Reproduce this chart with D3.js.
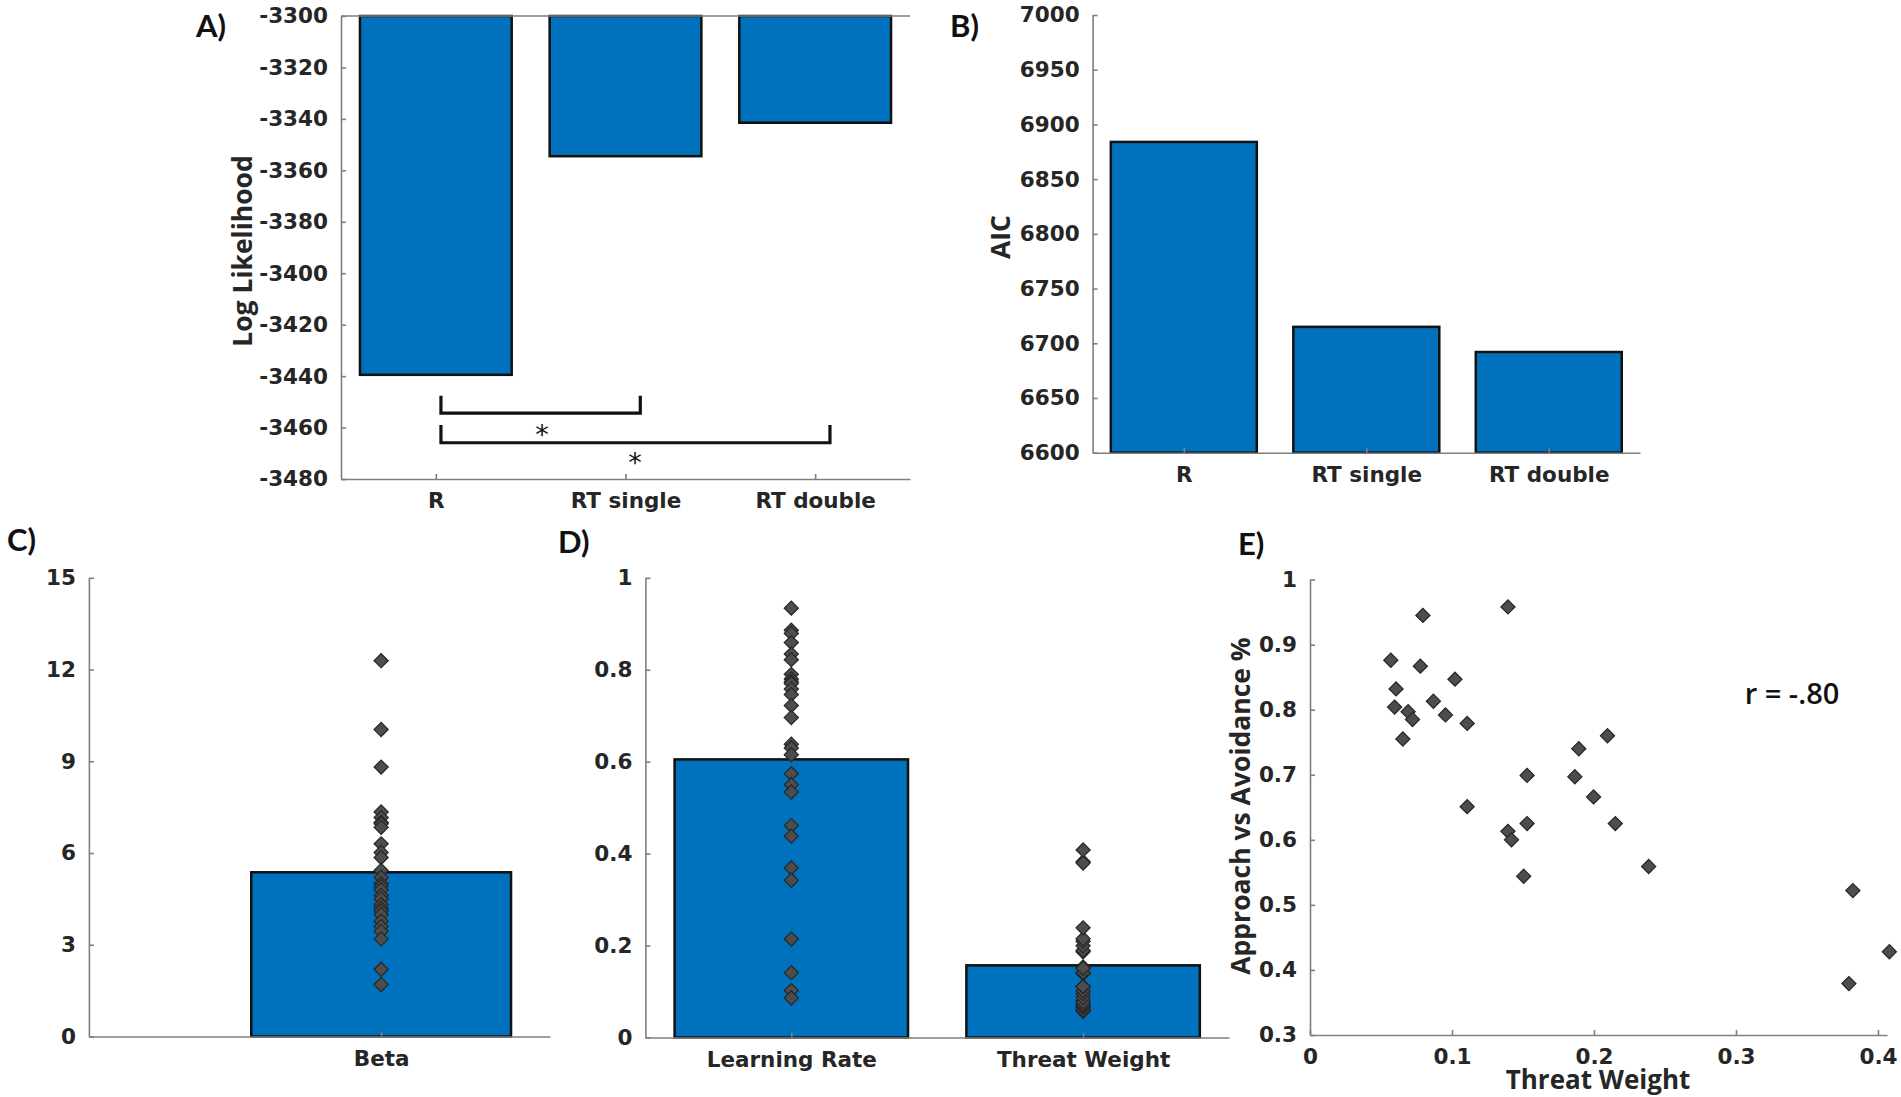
<!DOCTYPE html>
<html><head><meta charset="utf-8">
<script src="https://cdn.jsdelivr.net/npm/d3@7"></script>
<style>
body{margin:0;background:#fff;}
svg{display:block;}
.axis text{font-family:"DejaVu Sans",sans-serif;font-weight:bold;font-size:21.5px;fill:#262626;}
.axis path,.axis line{stroke:#7f7f7f;stroke-width:1.6;}
.lab{font-family:"Open Sans",sans-serif;font-weight:700;font-size:26.5px;fill:#262626;}
.panel{font-family:"Lato",sans-serif;font-weight:700;font-size:31px;fill:#111;}
</style></head><body>
<svg id="chart" width="1901" height="1097"></svg>
<script>
// ---------------- data ----------------
const modelNames = ["R", "RT single", "RT double"];
const logLikelihood = [-3439.5, -3354.5, -3341.5];
const aicValues = [6884, 6715, 6692];
const llTicks = [-3300, -3320, -3340, -3360, -3380, -3400, -3420, -3440, -3460, -3480];
const aicTicks = [6600, 6650, 6700, 6750, 6800, 6850, 6900, 6950, 7000];

const betaNames = ["Beta"];
const betaMean = [5.37];
const betaPoints = [12.29, 10.04, 8.81, 7.34, 7.16, 7.0, 6.96, 6.84, 6.30, 6.02, 5.85, 5.43, 5.2, 5.0,
  4.91, 4.8, 4.61, 4.5, 4.31, 4.19, 4.1, 3.98, 3.77, 3.6, 3.44, 3.19, 2.20, 1.70];
const betaTicks = [0, 3, 6, 9, 12, 15];

const paramNames = ["Learning Rate", "Threat Weight"];
const paramMeans = [0.605, 0.157];
const learningRatePoints = [0.934, 0.886, 0.879, 0.859, 0.834, 0.822, 0.790, 0.780, 0.774, 0.770, 0.758,
  0.746, 0.722, 0.696, 0.638, 0.630, 0.615, 0.574, 0.550, 0.534, 0.461, 0.438, 0.369, 0.342, 0.214,
  0.141, 0.102, 0.086];
const threatWeightPoints = [0.0569, 0.0606, 0.0596, 0.0654, 0.0691, 0.0722, 0.0795, 0.0777, 0.0869, 0.0954,
  0.1021, 0.1107, 0.1107, 0.1394, 0.1394, 0.1419, 0.1529, 0.1529, 0.1505, 0.1865, 0.1893, 0.1997,
  0.2095, 0.2150, 0.2385, 0.3823, 0.3795, 0.4080];
const approachAvoid = [0.876, 0.832, 0.804, 0.755, 0.797, 0.785, 0.945, 0.867, 0.813, 0.792, 0.847,
  0.779, 0.651, 0.958, 0.613, 0.600, 0.699, 0.625, 0.544, 0.697, 0.740, 0.666, 0.760, 0.625,
  0.559, 0.522, 0.379, 0.428];
const paramTicks = [0, 0.2, 0.4, 0.6, 0.8, 1];
const eXTicks = [0, 0.1, 0.2, 0.3, 0.4];
const eYTicks = [0.3, 0.4, 0.5, 0.6, 0.7, 0.8, 0.9, 1];
const corrText = "r = -.80";

// significance annotations (category index / data units)
const sigPairs = [[1, 2], [1, 3]];
const sigLevels = [[-3447.6, -3454.4], [-3459, -3465.9]];
const starPos = [[1.56, -3459], [2.05, -3469.9]];

// ---------------- drawing ----------------
const svg = d3.select("#chart");
const BLUE = "#0072bd";
const barW = 0.8;
const diamond = d3.symbol(d3.symbolSquare, 100);

function yAxis(g, scale, ticks, fmt) {
  g.attr("class", "axis").call(d3.axisLeft(scale).tickValues(ticks).tickSize(-5).tickSizeOuter(0)
    .tickPadding(13).tickFormat(fmt || (d => String(d))));
}
function xAxis(g, scale, ticks, fmt) {
  g.attr("class", "axis").call(d3.axisBottom(scale).tickValues(ticks).tickSize(-5).tickSizeOuter(0)
    .tickPadding(14).tickFormat(fmt));
}
function bars(g, x, y, vals, base, stroke) {
  g.selectAll("rect").data(vals).join("rect")
    .attr("x", (d, i) => x(i + 1 - barW / 2))
    .attr("width", (d, i) => x(i + 1 + barW / 2) - x(i + 1 - barW / 2))
    .attr("y", d => Math.min(y(d), y(base)))
    .attr("height", d => Math.abs(y(d) - y(base)))
    .attr("fill", BLUE).attr("stroke", "#111").attr("stroke-width", stroke);
}
function dots(g, xs, ys) {
  g.selectAll("path").data(ys).join("path")
    .attr("d", diamond)
    .attr("transform", (d, i) => `translate(${xs(i)},${d}) rotate(45)`)
    .attr("fill", "#4d4d4d").attr("stroke", "#262626").attr("stroke-width", 1.2);
}
function ylabel(x, y, txt) {
  svg.append("text").attr("class", "lab").attr("text-anchor", "middle")
    .attr("dominant-baseline", "central")
    .attr("transform", `translate(${x},${y}) rotate(-90)`).text(txt);
}
function panel(x, y, txt) {
  svg.append("text").attr("class", "panel").attr("x", x).attr("y", y).text(txt);
}

// ---- Panel A ----
{
  const x = d3.scaleLinear().domain([0.5, 3.5]).range([341, 910]);
  const y = d3.scaleLinear().domain([-3300, -3480]).range([16, 479]);
  const g = svg.append("g");
  bars(g.append("g"), x, y, logLikelihood, -3300, 2.5);
  g.append("line").attr("x1", x(0.5)).attr("x2", x(3.5)).attr("y1", y(-3300)).attr("y2", y(-3300))
    .attr("stroke", "#7f7f7f").attr("stroke-width", 1.6);
  xAxis(g.append("g").attr("transform", `translate(0,${y(-3480)})`), x, [1, 2, 3], (d) => modelNames[d - 1]);
  yAxis(g.append("g").attr("transform", `translate(${x(0.5)},0)`), y, llTicks);
  const br = g.append("g").attr("fill", "none").attr("stroke", "#111").attr("stroke-width", 3.2);
  sigPairs.forEach((p, i) => {
    const [top, bot] = sigLevels[i];
    br.append("path").attr("d", `M${x(p[0] + 0.027)},${y(top)}V${y(bot)}H${x(p[1] + 0.078)}V${y(top)}`);
  });
  g.selectAll("text.star").data(starPos).join("text").attr("class", "star")
    .attr("x", d => x(d[0])).attr("y", d => y(d[1]))
    .attr("text-anchor", "middle").attr("dy", "0.72em")
    .style("font-family", "DejaVu Sans").style("font-size", "27px").attr("fill", "#111").text("*");
  ylabel(242, 251, "Log Likelihood");
  panel(196, 37, "A)");
}

// ---- Panel B ----
{
  const x = d3.scaleLinear().domain([0.5, 3.5]).range([1092.6, 1640]);
  const y = d3.scaleLinear().domain([6600, 7000]).range([452.7, 15]);
  const g = svg.append("g");
  bars(g.append("g"), x, y, aicValues, 6600, 2.5);
  xAxis(g.append("g").attr("transform", `translate(0,${y(6600)})`), x, [1, 2, 3], (d) => modelNames[d - 1]);
  yAxis(g.append("g").attr("transform", `translate(${x(0.5)},0)`), y, aicTicks);
  ylabel(1000, 237, "AIC");
  panel(950, 37, "B)");
}

// ---- Panel C ----
{
  const x = d3.scaleLinear().domain([0.1, 1.52]).range([88.9, 550]);
  const y = d3.scaleLinear().domain([0, 15]).range([1036.5, 577.8]);
  const g = svg.append("g");
  bars(g.append("g"), x, y, betaMean, 0, 2.5);
  xAxis(g.append("g").attr("transform", `translate(0,${y(0)})`), x, [1], (d) => betaNames[d - 1]);
  yAxis(g.append("g").attr("transform", `translate(${x(0.1)},0)`), y, betaTicks);
  dots(g.append("g"), () => x(1), betaPoints.map(y));
  panel(7, 551, "C)");
}

// ---- Panel D ----
{
  const x = d3.scaleLinear().domain([0.5, 2.5]).range([645.4, 1229]);
  const y = d3.scaleLinear().domain([0, 1]).range([1037.5, 577.8]);
  const g = svg.append("g");
  bars(g.append("g"), x, y, paramMeans, 0, 2.5);
  xAxis(g.append("g").attr("transform", `translate(0,${y(0)})`), x, [1, 2], (d) => paramNames[d - 1]);
  yAxis(g.append("g").attr("transform", `translate(${x(0.5)},0)`), y, paramTicks);
  dots(g.append("g"), () => x(1), learningRatePoints.map(y));
  dots(g.append("g"), () => x(2), threatWeightPoints.map(y));
  panel(558, 553, "D)");
}

// ---- Panel E ----
{
  const x = d3.scaleLinear().domain([0, 0.4]).range([1310, 1878]);
  const y = d3.scaleLinear().domain([0.3, 1]).range([1035, 579.6]);
  const g = svg.append("g");
  const xEnd = x.invert(1887);
  const xa = d3.scaleLinear().domain([0, xEnd]).range([1310, 1887]);
  xAxis(g.append("g").attr("transform", `translate(0,${y(0.3)})`), xa, eXTicks, d => String(d));
  yAxis(g.append("g").attr("transform", `translate(${x(0)},0)`), y, eYTicks);
  g.append("g").selectAll("path").data(approachAvoid).join("path")
    .attr("d", diamond)
    .attr("transform", (d, i) => `translate(${x(threatWeightPoints[i])},${y(d)}) rotate(45)`)
    .attr("fill", "#4d4d4d").attr("stroke", "#262626").attr("stroke-width", 1.2);
  svg.append("text").attr("x", 1792).attr("y", 692).attr("text-anchor", "middle")
    .attr("dominant-baseline", "central")
    .style("font-family", "Open Sans").style("font-weight", 600).style("font-size", "29px")
    .attr("fill", "#111").text(corrText);
  ylabel(1240, 806, "Approach vs Avoidance %");
  svg.append("text").attr("class", "lab").attr("x", 1598).attr("y", 1089)
    .attr("text-anchor", "middle").style("font-size", "26px").text("Threat Weight");
  panel(1238, 555, "E)");
}
</script>
</body></html>
